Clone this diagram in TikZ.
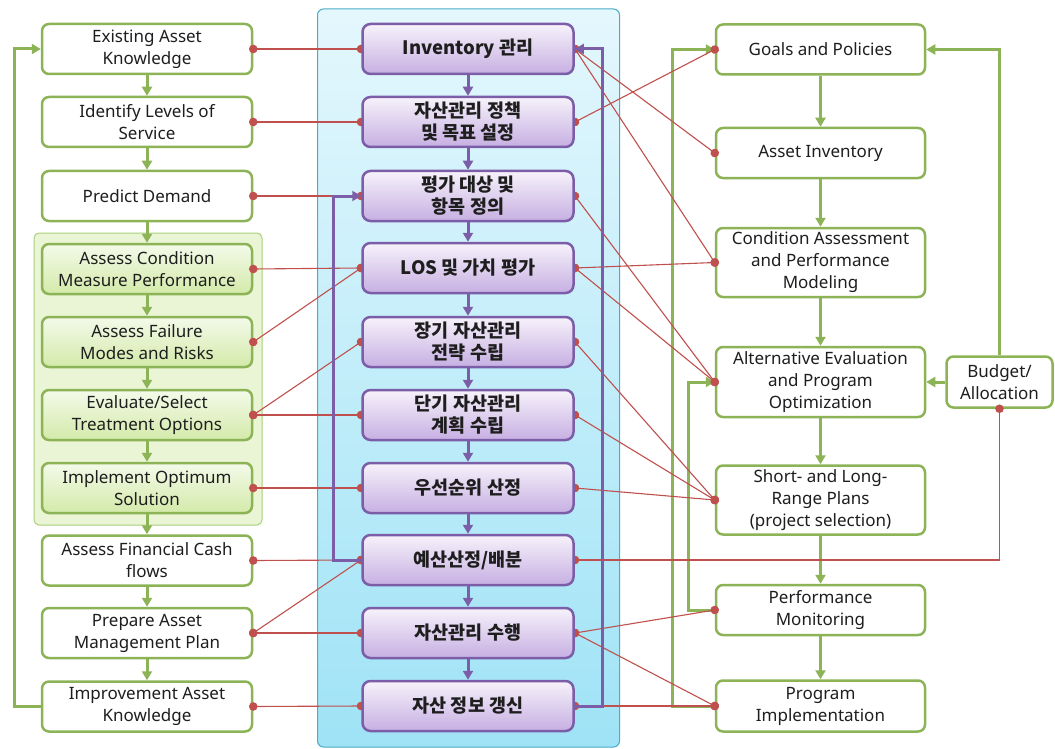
\documentclass[tikz,border=0pt]{standalone}
\usepackage{fontspec}
\setmainfont{Noto Sans}
\newfontfamily\kr{Noto Sans CJK KR}
\usetikzlibrary{arrows.meta}
\definecolor{gcol}{HTML}{8DB357}
\definecolor{rcol}{HTML}{C0504D}
\definecolor{pcol}{HTML}{7B5EA7}
\definecolor{panelb}{HTML}{4BACC6}
\definecolor{txt}{HTML}{1E1E1E}
\tikzset{
  gbox/.style={draw=gcol, line width=2.5pt, rounded corners=7pt, fill=white,
    minimum width=210pt, minimum height=50pt, inner sep=2pt, align=center,
    text=txt, font=\fontsize{17}{22}\selectfont},
  gin/.style={top color=gtop, bottom color=gbot},
  pbox/.style={draw=pcol, line width=2.5pt, rounded corners=8pt,
    top color=ptop, bottom color=pbot, minimum width=211pt, minimum height=50pt,
    inner sep=2pt, align=center, text=txt,
    font=\kr\bfseries\fontsize{18.5}{22}\selectfont},
  garrow/.style={draw=gcol, line width=3pt, -{Triangle[length=9pt,width=10pt]}},
  parrow/.style={draw=pcol, line width=3pt, -{Triangle[length=9pt,width=10pt]}},
  rline/.style={draw=rcol, line width=1.1pt, {Circle[length=8.5pt]}-{Circle[length=8.5pt]},
    shorten <=-4.25pt, shorten >=-4.25pt},
}
\definecolor{gtop}{HTML}{F4FAEA}
\definecolor{gbot}{HTML}{D3EAA9}
\definecolor{ptop}{HTML}{F7F2FB}
\definecolor{pbot}{HTML}{C6AFE2}
\definecolor{pantop}{HTML}{E4F7FD}
\definecolor{panbot}{HTML}{9FE3F6}
\definecolor{grpfill}{HTML}{EAF5D6}
\definecolor{grpdraw}{HTML}{A9D07A}
\begin{document}
\begin{tikzpicture}[x=1pt,y=-1pt]
\useasboundingbox[fill=white] (0,0) rectangle (1055,749);

% backgrounds
\node[draw=panelb, line width=1pt, rounded corners=6pt, top color=pantop, bottom color=panbot,
  minimum width=302pt, minimum height=738pt, inner sep=0pt] (panel) at (468.5,378) {};
\node[draw=grpdraw, line width=1pt, rounded corners=5pt, fill=grpfill,
  minimum width=228pt, minimum height=292pt, inner sep=0pt] (grp) at (148,379) {};

% left column
\node[gbox] (L1) at (147,49) {Existing Asset\\Knowledge};
\node[gbox] (L2) at (147,122) {Identify Levels of\\Service};
\node[gbox] (L3) at (147,196) {Predict Demand};
\node[gbox,gin] (L4) at (147,269) {Assess Condition\\Measure Performance};
\node[gbox,gin] (L5) at (147,342) {Assess Failure\\Modes and Risks};
\node[gbox,gin] (L6) at (147,415) {Evaluate/Select\\Treatment Options};
\node[gbox,gin] (L7) at (147,488) {Implement Optimum\\Solution};
\node[gbox] (L8) at (147,560.5) {Assess Financial Cash\\flows};
\node[gbox] (L9) at (147,633) {Prepare Asset\\Management Plan};
\node[gbox] (L10) at (147,706.5) {Improvement Asset\\Knowledge};

% right column
\node[gbox, minimum width=209pt] (R1) at (820.5,49.5) {Goals and Policies};
\node[gbox, minimum width=209pt] (R2) at (820.5,153) {Asset Inventory};
\node[gbox, minimum width=209pt, minimum height=69pt] (R3) at (820.5,262.5) {Condition Assessment\\and Performance\\Modeling};
\node[gbox, minimum width=209pt, minimum height=70pt] (R4) at (820.5,382) {Alternative Evaluation\\and Program\\Optimization};
\node[gbox, minimum width=209pt, minimum height=69pt] (R5) at (820.5,500) {Short- and Long-\\Range Plans\\(project selection)};
\node[gbox, minimum width=209pt] (R6) at (820.5,610) {Performance\\Monitoring};
\node[gbox, minimum width=209pt, minimum height=51pt] (R7) at (820.5,706) {Program\\Implementation};
\node[gbox, minimum width=106pt, minimum height=51pt] (B) at (999.5,382) {Budget/\\Allocation};

% green arrows
\foreach \a/\b in {L1/L2,L2/L3,L3/L4,L4/L5,L5/L6,L6/L7,L7/L8,L8/L9,L9/L10,
                   R1/R2,R2/R3,R3/R4,R4/R5,R5/R6,R6/R7}
  \draw[garrow] (\a.south) -- (\b.north);
\coordinate (lx) at (14,0);
\coordinate (gx1) at (672,0);
\coordinate (gx2) at (688,0);
\draw[garrow] (L10.west) -- (L10.west -| lx) -- (L1.west -| lx) -- (L1.west);
\draw[garrow] (R7.west) -- (R7.west -| gx1) -- (R1.west -| gx1) -- (R1.west);
\draw[garrow] (R6.west) -- (R6.west -| gx2) -- (R4.west -| gx2) -- (R4.west);
\draw[garrow] (B.north) -- (B.north |- R1.east) -- (R1.east);
\draw[garrow] (B.west) -- (R4.east);

% edge points of the centre boxes (boxes drawn over the red lines below)
\coordinate (C1w) at (361,49);   \coordinate (C1e) at (575,49);
\coordinate (C2w) at (361,122);  \coordinate (C2e) at (575,122);
\coordinate (C3w) at (361,196);  \coordinate (C3e) at (575,196);
\coordinate (C4w) at (361,268);  \coordinate (C4e) at (575,268);
\coordinate (C5w) at (361,342);  \coordinate (C5e) at (575,342);
\coordinate (C6w) at (361,415);  \coordinate (C6e) at (575,415);
\coordinate (C7w) at (361,488);  \coordinate (C7e) at (575,488);
\coordinate (C8w) at (361,560);  \coordinate (C8e) at (575,560);
\coordinate (C9w) at (361,633);  \coordinate (C9e) at (575,633);
\coordinate (C10w) at (361,706); \coordinate (C10e) at (575,706);

% red connectors
\foreach \a/\b in {L1/C1,L2/C2,L3/C3,L4/C4,L5/C4,L6/C5,L6/C6,L7/C7,L8/C8,L9/C8,L9/C9,L10/C10}
  \draw[rline] (\a.east) -- (\b w);
\foreach \a/\b in {C1/R2,C1/R3,C2/R1,C3/R4,C4/R3,C4/R4,C5/R5,C6/R5,C7/R5,C9/R6,C9/R7,C10/R7}
  \draw[rline] (\a e) -- (\b.west);
\draw[rline] (C8e) -- (C8e -| B.south) -- (B.south);

% center boxes
\node[pbox] (C1) at (468,49) {Inventory 관리};
\node[pbox] (C2) at (468,122) {자산관리 정책\\및 목표 설정};
\node[pbox] (C3) at (468,196) {평가 대상 및\\항목 정의};
\node[pbox] (C4) at (468,268) {LOS 및 가치 평가};
\node[pbox] (C5) at (468,342) {장기 자산관리\\전략 수립};
\node[pbox] (C6) at (468,415) {단기 자산관리\\계획 수립};
\node[pbox] (C7) at (468,488) {우선순위 산정};
\node[pbox] (C8) at (468,560) {예산산정/배분};
\node[pbox] (C9) at (468,633) {자산관리 수행};
\node[pbox] (C10) at (468,706) {자산 정보 갱신};

% purple arrows
\foreach \a/\b in {C1/C2,C2/C3,C3/C4,C4/C5,C5/C6,C6/C7,C7/C8,C8/C9,C9/C10}
  \draw[parrow] (\a.south) -- (\b.north);
\coordinate (px) at (602,0);
\coordinate (qx) at (333,0);
\draw[parrow] (C10.east) -- (C10.east -| px) -- (C1.east -| px) -- (C1.east);
\draw[parrow] (C8.west) -- (C8.west -| qx) -- (C3.west -| qx) -- (C3.west);
\end{tikzpicture}
\end{document}
